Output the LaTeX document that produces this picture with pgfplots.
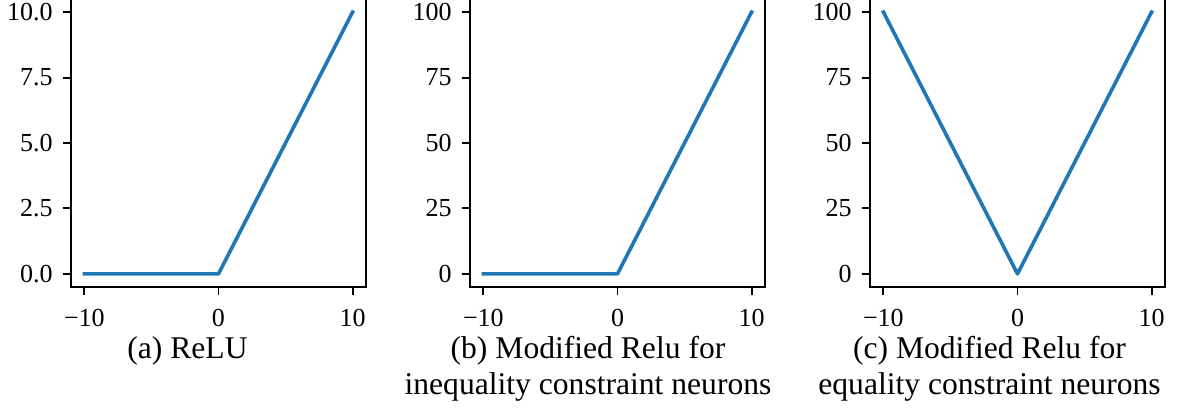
\documentclass[border=0pt]{standalone}
\usepackage{fontspec}
\setmainfont{Liberation Serif}
\usepackage{pgfplots}
\pgfplotsset{compat=1.18}
\definecolor{tabblue}{HTML}{1F77B4}
\pgfplotsset{
  myax/.style={
    scale only axis, width=147.5pt, height=144pt,
    anchor=south west,
    xmin=-11, xmax=11,
    xtick={-10,0,10}, xticklabels={−10,0,10},
    tick align=outside, major tick length=4.2pt,
    axis line style={line width=0.96pt},
    every tick/.style={black, line width=0.96pt},
    xtick pos=bottom, ytick pos=left,
    tick label style={font=\fontsize{13}{15}\selectfont},
    xticklabel style={inner sep=0pt, anchor=north, yshift=-6.8pt},
    yticklabel style={inner sep=0pt, anchor=east, xshift=-4.8pt},
    /pgf/number format/assume math mode=true,
    clip=false,
  },
  myline/.style={tabblue, line width=1.8pt, line join=round, line cap=rect, mark=none},
}
\begin{document}
\begin{tikzpicture}[x=1pt,y=1pt]
\useasboundingbox (0,0) rectangle (590,206);
\begin{axis}[myax, at={(35.5pt,62.5pt)},
  ymin=-0.5, ymax=10.5, ytick={0,2.5,5,7.5,10},
  yticklabels={0.0,2.5,5.0,7.5,10.0}]
\addplot[myline] coordinates {(-10,0) (0,0) (10,10)};
\end{axis}
\begin{axis}[myax, at={(235pt,62.5pt)},
  ymin=-5, ymax=105, ytick={0,25,50,75,100},
  yticklabels={0,25,50,75,100}]
\addplot[myline] coordinates {(-10,0) (0,0) (10,100)};
\end{axis}
\begin{axis}[myax, at={(435pt,62.5pt)},
  ymin=-5, ymax=105, ytick={0,25,50,75,100},
  yticklabels={0,25,50,75,100}]
\addplot[myline] coordinates {(-10,100) (0,0) (10,100)};
\end{axis}
\begin{scope}[every node/.style={inner sep=0pt, anchor=base, font=\fontsize{15.8}{19}\selectfont}]
\node at (93.75,26.5) {(a) ReLU};
\node at (294,26.5) {(b) Modified Relu for};
\node at (294,8.5) {inequality constraint neurons};
\node at (494.75,26.5) {(c) Modified Relu for};
\node at (494.75,8.5) {equality constraint neurons};
\end{scope}
\end{tikzpicture}
\end{document}
